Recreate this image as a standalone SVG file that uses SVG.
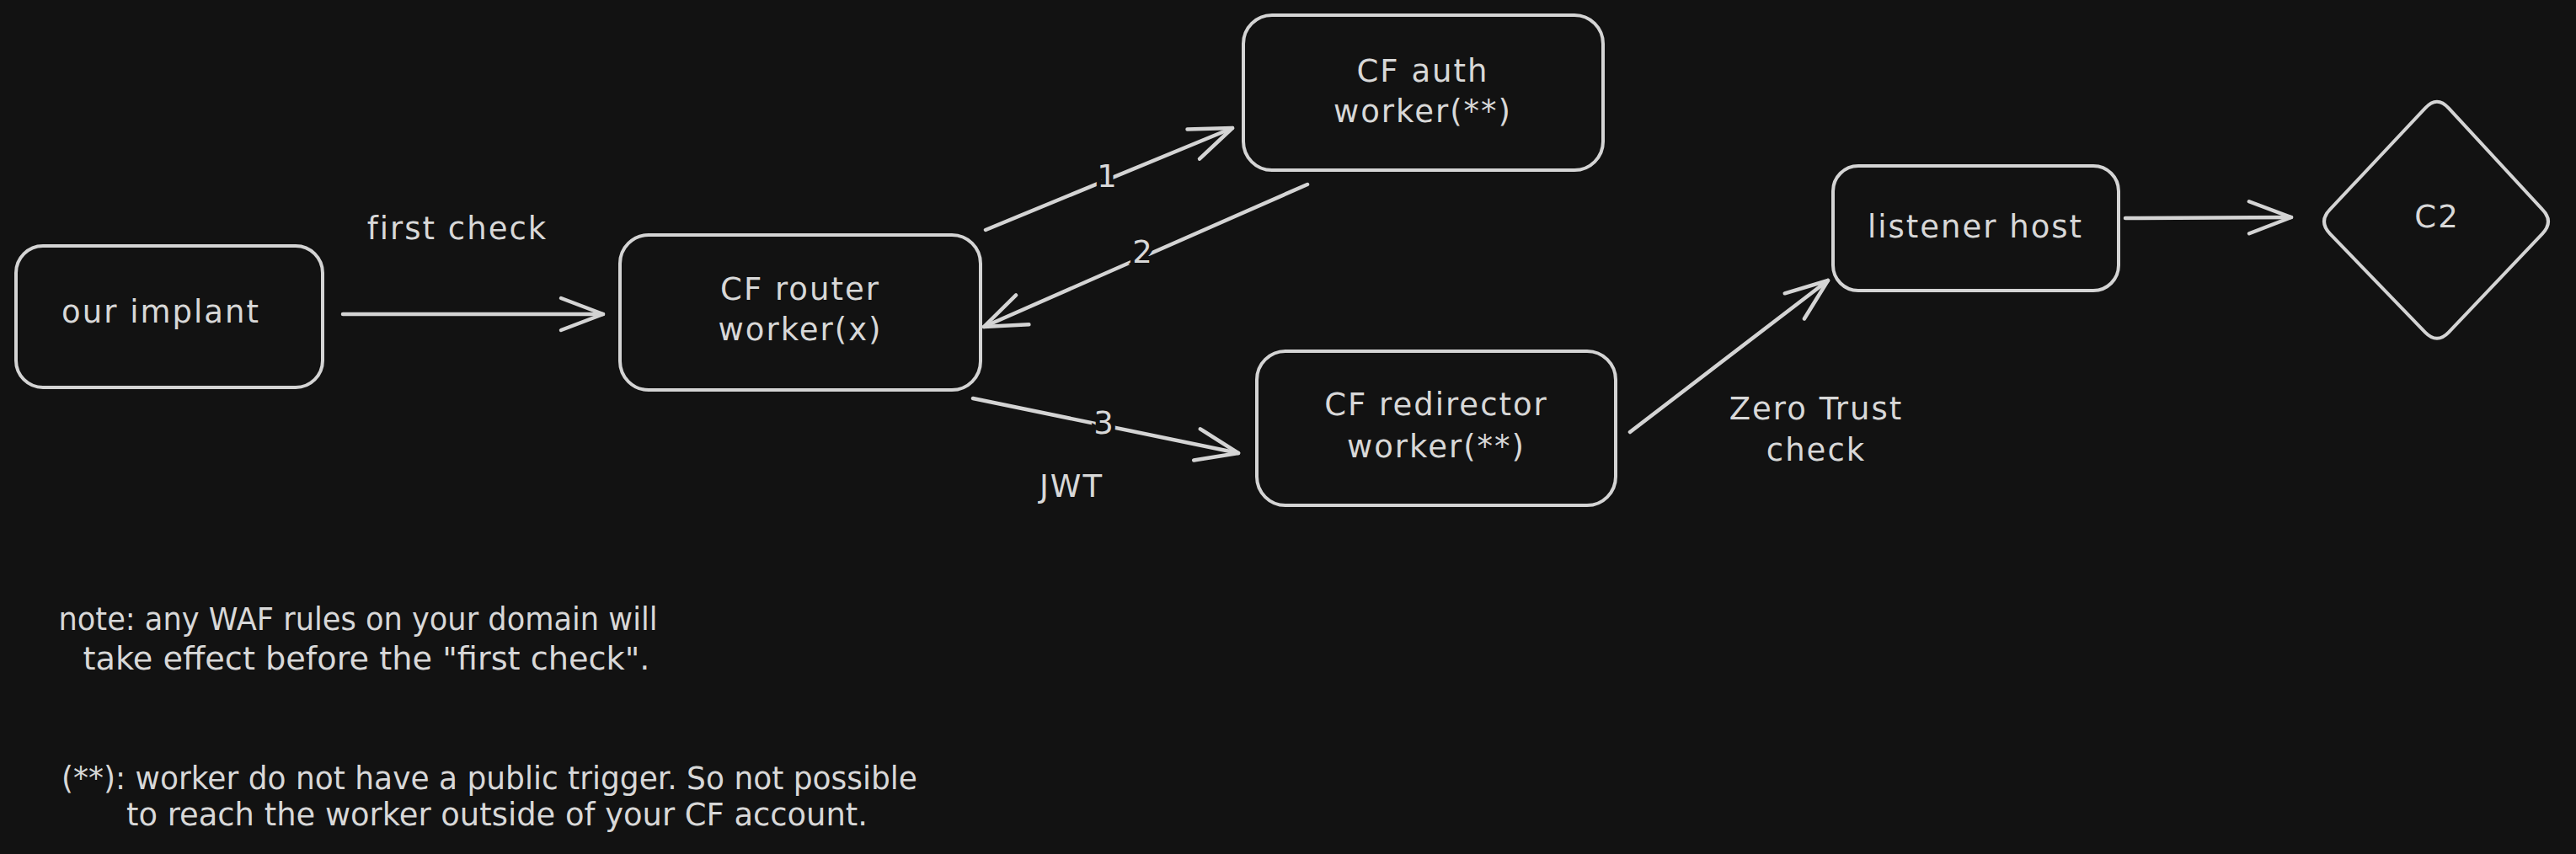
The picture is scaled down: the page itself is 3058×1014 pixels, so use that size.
<svg xmlns="http://www.w3.org/2000/svg" width="3058" height="1014" viewBox="0 0 3058 1014">
<defs>
<style>
.node{fill:#121212;stroke:#d4d4d4;stroke-width:4;}
.conn{fill:none;stroke:#d4d4d4;stroke-width:4.5;stroke-linecap:round;}
.t{font-family:"DejaVu Sans","Liberation Sans",sans-serif;font-size:37px;letter-spacing:2px;fill:#d8d8d8;text-anchor:middle;}
.n{letter-spacing:0;}
.lbl{paint-order:stroke;stroke:#121212;stroke-width:10px;}
</style>
<marker id="arr" viewBox="-60 -26 66 52" markerWidth="66" markerHeight="52" refX="0" refY="0" markerUnits="userSpaceOnUse" orient="auto">
<path d="M-50,-19 L0,0 L-50,19" fill="none" stroke="#d4d4d4" stroke-width="4.5" stroke-linecap="round" stroke-linejoin="round"/>
</marker>
</defs>
<rect width="3058" height="1014" fill="#121212"/>
<g id="connectors">
<path class="conn" d="M407,373 L716,373" marker-end="url(#arr)"/>
<path class="conn" d="M1170,273 L1463,152" marker-end="url(#arr)"/>
<path class="conn" d="M1552,219 L1168,388" marker-end="url(#arr)"/>
<path class="conn" d="M1155,473 L1470,538" marker-end="url(#arr)"/>
<path class="conn" d="M1935,513 L2170,333" marker-end="url(#arr)"/>
<path class="conn" d="M2523,259 L2720,258" marker-end="url(#arr)"/>
<text class="t lbl" x="1315" y="222">1</text>
<text class="t lbl" x="1357" y="312">2</text>
<text class="t lbl" x="1311" y="515">3</text>
<text class="t" x="543" y="284">first check</text>
<text class="t" x="1272" y="590">JWT</text>
<text class="t" x="2156" y="498">Zero Trust</text>
<text class="t" x="2156" y="547">check</text>
</g>
<g id="our-implant">
<rect class="node" x="19" y="292" width="364" height="168" rx="32"/>
<text class="t" x="191" y="383">our implant</text>
</g>
<g id="cf-router">
<rect class="node" x="736" y="279" width="428" height="184" rx="34"/>
<text class="t" x="950" y="356">CF router</text>
<text class="t" x="950" y="404">worker(x)</text>
</g>
<g id="cf-auth">
<rect class="node" x="1476" y="18" width="427" height="184" rx="34"/>
<text class="t" x="1689" y="97">CF auth</text>
<text class="t" x="1689" y="145">worker(**)</text>
</g>
<g id="cf-redirector">
<rect class="node" x="1492" y="417" width="426" height="183" rx="34"/>
<text class="t" x="1705" y="493">CF redirector</text>
<text class="t" x="1705" y="543">worker(**)</text>
</g>
<g id="listener-host">
<rect class="node" x="2176" y="197" width="339" height="148" rx="30"/>
<text class="t" x="2345" y="282">listener host</text>
</g>
<g id="c2">
<path class="node" d="M2906.8,128.4 L3018,248.6 Q3032,263 3018,277.6 L2906.8,394.6 Q2893,409 2879,394.6 L2766,277.6 Q2752,263 2766,248.6 L2879,128.4 Q2893,113 2906.8,128.4 Z"/>
<text class="t" x="2893" y="270">C2</text>
</g>
<g id="notes">
<text class="t n" x="425" y="748" textLength="711" lengthAdjust="spacingAndGlyphs">note: any WAF rules on your domain will</text>
<text class="t n" x="435" y="795" textLength="673" lengthAdjust="spacingAndGlyphs">take effect before the "first check".</text>
<text class="t n" x="581" y="937" textLength="1016" lengthAdjust="spacingAndGlyphs">(**): worker do not have a public trigger. So not possible</text>
<text class="t n" x="590" y="980" textLength="880" lengthAdjust="spacingAndGlyphs">to reach the worker outside of your CF account.</text>
</g>
</svg>
